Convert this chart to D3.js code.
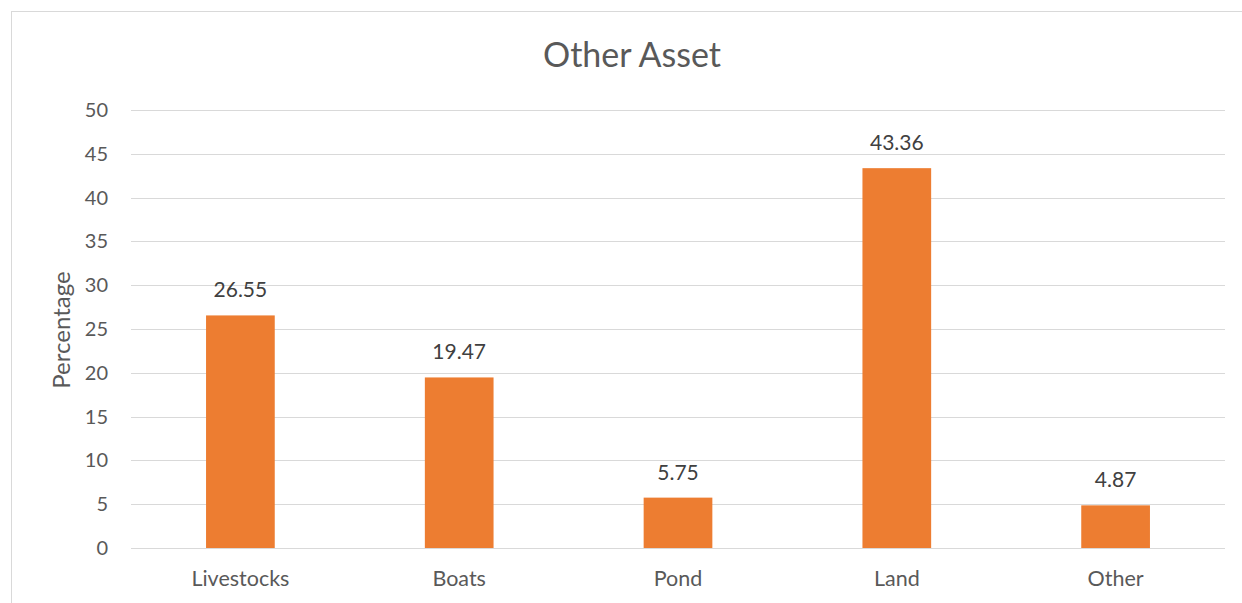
<!DOCTYPE html>
<html>
  <head>
    <meta charset="utf-8" />
    <title>Other Asset</title>
    <script type="text/javascript" src="https://d3js.org/d3.v7.min.js"></script>
    <style>
      body { margin: 0; background: #fff; }
    </style>
  </head>
  <body>
    <div id="chart"></div>
    <script>
const categories = ['Livestocks', 'Boats', 'Pond', 'Land', 'Other'];
const values = [26.55, 19.47, 5.75, 43.36, 4.87];
const yTicks = [0, 5, 10, 15, 20, 25, 30, 35, 40, 45, 50];

const W = 1242, H = 603;
const font = "Lato, 'Open Sans', sans-serif";
const textColor = '#595959';

const svg = d3.select('#chart').append('svg')
  .attr('width', W)
  .attr('height', H)
  .style('font-family', font);

// chart frame (only top and left edges fall inside the picture)
svg.append('rect')
  .attr('x', 11.5).attr('y', 11.5)
  .attr('width', W + 20).attr('height', H + 20)
  .attr('fill', '#fff')
  .attr('stroke', '#d9d9d9');

const x = d3.scaleBand().domain(categories).range([131, 1225]).padding(0);
const y = d3.scaleLinear().domain([0, 50]).range([548, 110]);
const barW = x.bandwidth() * 0.314;

// gridlines
svg.append('g')
  .selectAll('line')
  .data(yTicks)
  .join('line')
  .attr('x1', 131).attr('x2', 1225)
  .attr('y1', d => Math.round(y(d)) + 0.5)
  .attr('y2', d => Math.round(y(d)) + 0.5)
  .attr('stroke', '#d9d9d9')
  .attr('stroke-width', 1);

// y tick labels
svg.append('g')
  .selectAll('text')
  .data(yTicks)
  .join('text')
  .attr('x', 108)
  .attr('y', d => y(d))
  .attr('dy', '0.35em')
  .attr('text-anchor', 'end')
  .attr('fill', textColor)
  .style('font-size', '20px')
  .text(d => d);

// bars
svg.append('g')
  .selectAll('rect')
  .data(values)
  .join('rect')
  .attr('x', (d, i) => x(categories[i]) + x.bandwidth() / 2 - barW / 2)
  .attr('y', d => y(d))
  .attr('width', barW)
  .attr('height', d => y(0) - y(d))
  .attr('fill', '#ed7d31');

// value labels
svg.append('g')
  .selectAll('text')
  .data(values)
  .join('text')
  .attr('x', (d, i) => x(categories[i]) + x.bandwidth() / 2)
  .attr('y', d => y(d) - 18)
  .attr('text-anchor', 'middle')
  .attr('fill', '#404040')
  .style('font-size', '21px')
  .text(d => d.toFixed(2));

// category labels
svg.append('g')
  .selectAll('text')
  .data(categories)
  .join('text')
  .attr('x', d => x(d) + x.bandwidth() / 2)
  .attr('y', 586)
  .attr('text-anchor', 'middle')
  .attr('fill', textColor)
  .style('font-size', '21.5px')
  .text(d => d);

// axis title
svg.append('text')
  .attr('transform', 'translate(70,330) rotate(-90)')
  .attr('text-anchor', 'middle')
  .attr('fill', textColor)
  .style('font-size', '24px')
  .text('Percentage');

// chart title
svg.append('text')
  .attr('x', 632)
  .attr('y', 67)
  .attr('text-anchor', 'middle')
  .attr('fill', textColor)
  .style('font-size', '34px')
  .text('Other Asset');
    </script>
  </body>
</html>
